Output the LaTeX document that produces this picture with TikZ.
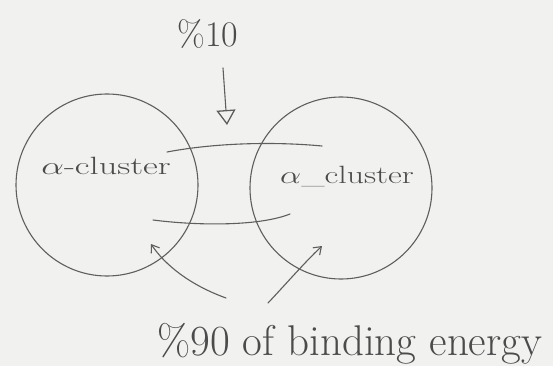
\documentclass[tikz,border=0pt]{standalone}
\usetikzlibrary{arrows.meta}
\definecolor{paper}{HTML}{F1F1F0}
\definecolor{pencil}{HTML}{5E5E5E}
\begin{document}
\begin{tikzpicture}[x=1pt,y=-1pt,
  line/.style={draw=pencil, line width=1.1pt, line cap=round},
  ball/.style={circle, draw=pencil, line width=1.1pt, minimum size=182pt, inner sep=0pt},
  lbl/.style={text=pencil!80!black, inner sep=0pt},
  head/.style={-{Triangle[open, length=15pt, width=19pt, line width=1.3pt]}},
  small/.style={-{Straight Barb[length=7pt, width=10pt, line width=1.1pt]}}]
\fill[paper] (0,0) rectangle (553,366);
\useasboundingbox (0,0) rectangle (553,366);
\node[ball] (L) at (107,185) {};
\node[ball] (R) at (341,188) {};
\node[lbl, font=\fontsize{25}{28}\selectfont] (lt) at (106,166) {\scalebox{1.45}[1]{$\alpha$-cluster}};
\node[lbl, font=\fontsize{25}{28}\selectfont] (rt) at (347,176) {\scalebox{1.35}[1]{$\alpha$\_cluster}};
\node[lbl, font=\fontsize{36}{40}\selectfont] (top) at (208,34) {\%10};
\coordinate (a1) at (223,68);
\coordinate (a2) at (227,125);
\draw[line, head] (a1) -- (a2);
\coordinate (u1) at (167,152);
\coordinate (u2) at (322,146);
\draw[line] (u1) .. controls (220,142) and (280,142) .. (u2);
\coordinate (d1) at (153,220);
\coordinate (d2) at (290,214);
\draw[line] (d1) .. controls (200,226) and (260,226) .. (d2);
\node[lbl, font=\fontsize{43}{46}\selectfont, anchor=base west] (bot) at (157,355) {\%90 of binding energy};
\coordinate (p1) at (226,298);
\coordinate (p2) at (151,244);
\draw[line, small] (p1) .. controls (190,285) and (165,265) .. (p2);
\coordinate (q1) at (268,303);
\coordinate (q2) at (322,246);
\draw[line, small] (q1) .. controls (285,285) and (305,262) .. (q2);
\end{tikzpicture}
\end{document}
